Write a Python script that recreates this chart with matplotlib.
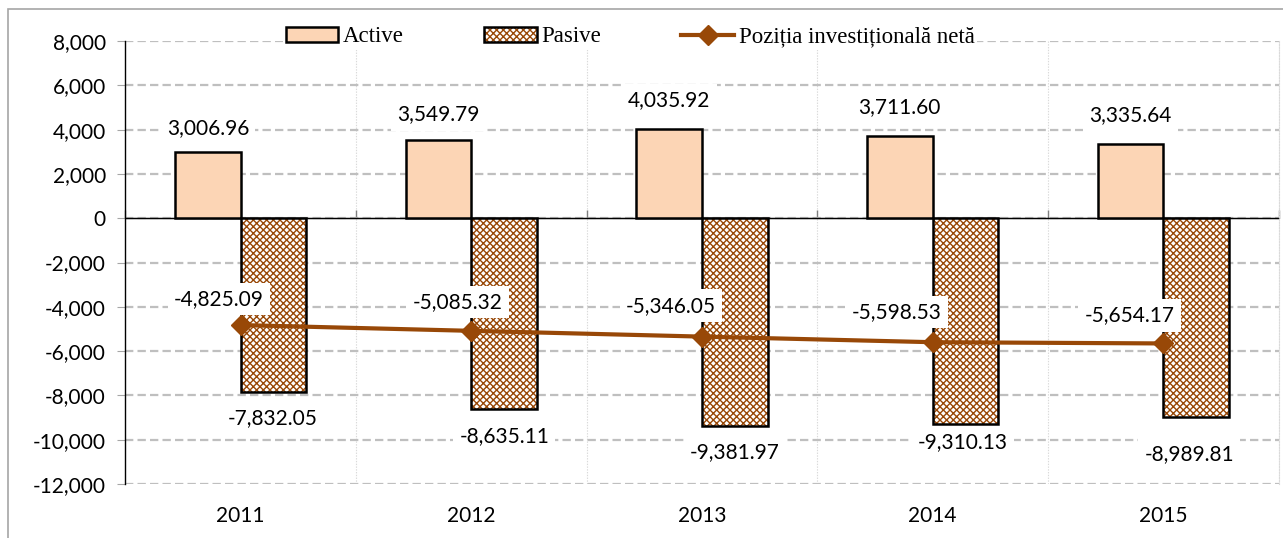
import numpy as np
import matplotlib.pyplot as plt
from matplotlib.patches import Rectangle
from matplotlib.legend_handler import HandlerTuple
from matplotlib.ticker import FuncFormatter

plt.rcParams["lines.scale_dashes"] = False
plt.rcParams["hatch.linewidth"] = 1.0

years = ["2011", "2012", "2013", "2014", "2015"]
active = [3006.96, 3549.79, 4035.92, 3711.60, 3335.64]
pasive = [-7832.05, -8635.11, -9381.97, -9310.13, -8989.81]
net_pos = [-4825.09, -5085.32, -5346.05, -5598.53, -5654.17]

# label nudges in pixels (dx, dy with dy downward)
act_dy = [-24, -25, -29, -29, -29]
pas_dx = [-1, 0, 0, -3, -7]
pas_dy = [26, 27, 26, 18, 37]
net_dx = [-22, -14, -31, -36, -34]
net_dy = [-26, -29, -31, -30, -28]

C_ACT = "#FCD5B5"
C_BROWN = "#984807"
SANS = ["Lato", "DejaVu Sans"]
SERIF = ["Liberation Serif", "DejaVu Serif"]
FS = 15

W, H = 1283, 538
fig = plt.figure(figsize=(W / 100, H / 100), dpi=100)
ax = fig.add_axes([125.4 / W, 1 - 484 / H, (1278.6 - 125.4) / W, (484 - 41) / H])

x = np.arange(len(years))
bw = 0.285

act_bars = ax.bar(x - bw / 2, active, bw, color=C_ACT, edgecolor="black",
                  linewidth=1.8, zorder=3)
pas_fill = ax.bar(x + bw / 2, pasive, bw, color="white", edgecolor=C_BROWN,
                  hatch="xxxxx", linewidth=0, zorder=3)
pas_edge = ax.bar(x + bw / 2, pasive, bw, fill=False, edgecolor="black",
                  linewidth=1.8, zorder=3)
net_line, = ax.plot(x, net_pos, color=C_BROWN, lw=3, marker="D",
                    markersize=10, zorder=5)

lbl = dict(textcoords="offset pixels", ha="center", va="center", fontsize=FS,
           family=SANS, zorder=6,
           bbox=dict(boxstyle="square,pad=0.3", fc="white", ec="none"))
for i in range(len(years)):
    ax.annotate(f"{active[i]:,.2f}", (x[i] - bw / 2, active[i]),
                xytext=(0, -act_dy[i]), **lbl)
    ax.annotate(f"{pasive[i]:,.2f}", (x[i] + bw / 2, pasive[i]),
                xytext=(pas_dx[i], -pas_dy[i]), **lbl)
    ax.annotate(f"{net_pos[i]:,.2f}", (x[i], net_pos[i]),
                xytext=(net_dx[i], -net_dy[i]), **lbl)

ax.set_xlim(-0.5, len(years) - 0.5)
ax.set_ylim(-12000, 8000)
ax.set_yticks(np.arange(-12000, 8001, 2000))
ax.yaxis.set_major_formatter(FuncFormatter(lambda v, p: f"{v:,.0f}"))
ax.yaxis.grid(True, color="#BFBFBF", linestyle=(0, (6, 3)), lw=1.6)
for b in np.arange(0.5, len(years), 1.0):
    ax.axvline(b, color="#DADADA", lw=0.8, linestyle=(0, (1, 1)), zorder=0)
ax.axhline(0, color="black", lw=1.0, zorder=2)

ax.set_xticks(x)
ax.set_xticklabels(years, fontsize=FS, family=SANS)
ax.tick_params(axis="x", length=0, pad=16)
ax.tick_params(axis="y", length=6, color="#A6A6A6", pad=8, labelsize=FS)
for t in ax.get_yticklabels():
    t.set_family(SANS)

for s in ["top", "bottom"]:
    ax.spines[s].set_visible(False)
ax.spines["right"].set_color("#DADADA")
ax.spines["right"].set_linestyle((0, (1, 1)))
ax.spines["right"].set_linewidth(0.8)
ax.spines["left"].set_linewidth(1.0)

# category separators on the zero line
zero = ax.secondary_xaxis(12000 / 20000)
zero.set_xticks(np.arange(-0.5, len(years), 1.0))
zero.set_xticklabels([])
zero.tick_params(length=6, width=1, color="#7F7F7F")
zero.spines["bottom"].set_visible(False)

leg = fig.legend([act_bars, (pas_fill, pas_edge), net_line],
                 ["Active", "Pasive", "Poziția investițională netă"],
                 handler_map={tuple: HandlerTuple(ndivide=1, pad=0)},
                 loc="center", bbox_to_anchor=(630 / W, 1 - 37 / H), ncol=3,
                 frameon=True, fancybox=False, edgecolor="none",
                 facecolor="white", framealpha=1, borderpad=0.1,
                 prop=dict(family=SERIF, size=16.5), handlelength=2.3,
                 handleheight=0.6, handletextpad=0.2, columnspacing=3.5)

fig.patches.append(Rectangle((8 / W, -0.1), 2, 1.1 - 9 / H,
                             transform=fig.transFigure, fill=False,
                             ec="#A6A6A6", lw=1.2))

fig.savefig("out.png", dpi=100)
